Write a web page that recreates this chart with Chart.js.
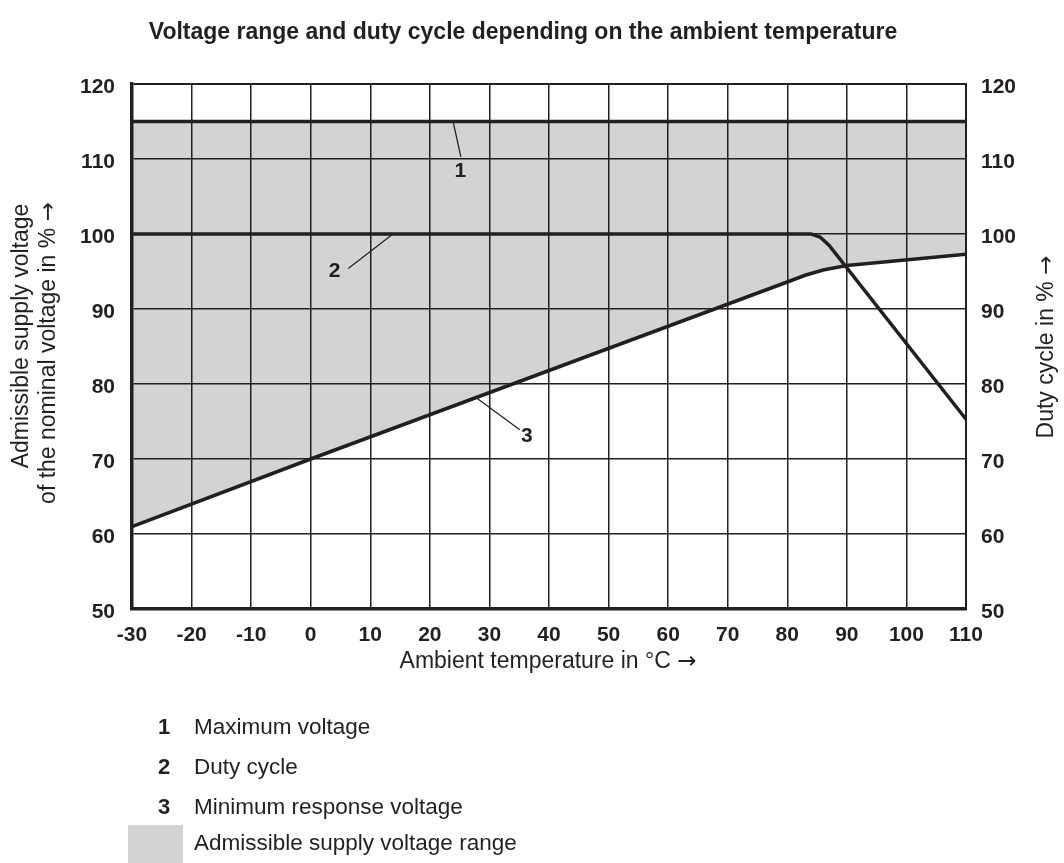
<!DOCTYPE html>
<html lang="en">
<head>
  <meta charset="UTF-8">
  <title>Voltage range and duty cycle</title>
  <script src="https://cdn.jsdelivr.net/npm/chart.js"></script>
  <style>
    body {
      margin: 0;
      background: #fff;
    }
    #chartBox {
      width: 1064px;
      height: 863px;
    }
  </style>
</head>
<body>

  <div id="chartBox">
    <canvas id="voltChart" width="1064" height="863"></canvas>
  </div>

  <script>
    // Curve 1 - maximum voltage (%)
    const maxTemp = [-30, 110];
    const maxVoltage = [115, 115];

    // Curve 2 - duty cycle (%), right axis
    const dutyTemp = [-30, 84, 85.5, 87, 110];
    const dutyCycle = [100, 100, 99.6, 98.5, 75.3];

    // Curve 3 - minimum response voltage (%)
    const minTemp = [-30, 0, 80, 83, 86, 90, 110];
    const minVoltage = [61, 70, 93.6, 94.5, 95.2, 95.8, 97.3];

    // axis ticks
    const tempTicks = [-30, -20, -10, 0, 10, 20, 30, 40, 50, 60, 70, 80, 90, 100, 110];
    const pctTicks = [50, 60, 70, 80, 90, 100, 110, 120];

    // callout labels: [label, fromX, fromY, toX, toY, textX, textY] in data units
    const callouts = [
      ['1', 23.9, 115, 25.2, 110.3, 25.1, 108.4],
      ['2', 13.8, 100, 6.3, 95.4, 4.0, 95.1],
      ['3', 27.9, 78.1, 35.1, 73.9, 36.3, 73.0]
    ];

    const legendItems = [
      ['1', 'Maximum voltage'],
      ['2', 'Duty cycle'],
      ['3', 'Minimum response voltage']
    ];

    const ink = '#231f20';
    const grey = '#d1d3d4';
    const textFamily = "'Liberation Sans', Arial, sans-serif";
    const tickFont = { family: textFamily, size: 21, weight: 'bold' };

    const toPoints = (xs, ys) => xs.map((x, i) => ({ x: x, y: ys[i] }));

    // text followed by a long arrow, centred on (x, y)
    function labelWithArrow(c, text, x, y) {
      c.font = '23px ' + textFamily;
      const w1 = c.measureText(text + ' ').width;
      c.font = '23px "DejaVu Sans"';
      const w2 = c.measureText('\u2192').width;
      const start = x - (w1 + w2) / 2;
      c.textAlign = 'left';
      c.font = '23px ' + textFamily;
      c.fillText(text + ' ', start, y);
      c.font = '23px "DejaVu Sans"';
      c.fillText('\u2192', start + w1, y);
      c.textAlign = 'center';
    }

    // titles, callouts and the key drawn around the plot
    const decorations = {
      id: 'decorations',
      afterDraw(chart) {
        const c = chart.ctx;
        const xs = chart.scales.x;
        const ys = chart.scales.y;
        c.save();
        c.fillStyle = ink;
        c.strokeStyle = ink;

        // chart title
        c.font = 'bold 23px ' + textFamily;
        c.textAlign = 'center';
        c.textBaseline = 'middle';
        c.fillText('Voltage range and duty cycle depending on the ambient temperature', 523, 33);

        // axis titles
        labelWithArrow(c, 'Ambient temperature in \u00b0C', 548, 662);

        c.save();
        c.translate(22, 336);
        c.rotate(-Math.PI / 2);
        c.font = '23px ' + textFamily;
        c.fillText('Admissible supply voltage', 0, 0);
        c.restore();

        c.save();
        c.translate(49, 353);
        c.rotate(-Math.PI / 2);
        labelWithArrow(c, 'of the nominal voltage in %', 0, 0);
        c.restore();

        c.save();
        c.translate(1047, 347);
        c.rotate(-Math.PI / 2);
        labelWithArrow(c, 'Duty cycle in %', 0, 0);
        c.restore();

        // callouts
        c.lineWidth = 1.2;
        c.font = 'bold 21px ' + textFamily;
        callouts.forEach(function (co) {
          c.beginPath();
          c.moveTo(xs.getPixelForValue(co[1]), ys.getPixelForValue(co[2]));
          c.lineTo(xs.getPixelForValue(co[3]), ys.getPixelForValue(co[4]));
          c.stroke();
          c.fillText(co[0], xs.getPixelForValue(co[5]), ys.getPixelForValue(co[6]));
        });

        // key
        c.textAlign = 'left';
        legendItems.forEach(function (item, i) {
          const y = 728 + i * 40;
          c.font = 'bold 22px ' + textFamily;
          c.fillText(item[0], 158, y);
          c.font = '22.5px ' + textFamily;
          c.fillText(item[1], 194, y);
        });
        c.fillStyle = grey;
        c.fillRect(128, 825, 55, 38);
        c.fillStyle = ink;
        c.fillText('Admissible supply voltage range', 194, 844);

        c.restore();
      }
    };

    const ctx = document.getElementById('voltChart').getContext('2d');
    new Chart(ctx, {
      type: 'line',
      data: {
        datasets: [
          {
            label: 'Maximum voltage',
            data: toPoints(maxTemp, maxVoltage),
            borderColor: ink,
            borderWidth: 3.5,
            backgroundColor: grey,
            fill: 2,
            pointRadius: 0,
            yAxisID: 'y'
          },
          {
            label: 'Duty cycle',
            data: toPoints(dutyTemp, dutyCycle),
            borderColor: ink,
            borderWidth: 3.5,
            fill: false,
            pointRadius: 0,
            yAxisID: 'y2'
          },
          {
            label: 'Minimum response voltage',
            data: toPoints(minTemp, minVoltage),
            borderColor: ink,
            borderWidth: 3.5,
            fill: false,
            pointRadius: 0,
            yAxisID: 'y'
          }
        ]
      },
      options: {
        responsive: false,
        animation: false,
        layout: { padding: { top: 84, left: 0, right: 0, bottom: 0 } },
        plugins: {
          legend: { display: false },
          tooltip: { enabled: false },
          filler: { drawTime: 'beforeDraw' }
        },
        scales: {
          x: {
            type: 'linear',
            min: tempTicks[0],
            max: tempTicks[tempTicks.length - 1],
            afterBuildTicks: function (scale) {
              scale.ticks = tempTicks.map(v => ({ value: v }));
            },
            afterFit: function (scale) { scale.height = 254; },
            grid: { color: ink, lineWidth: 1.5, drawTicks: false },
            border: { display: true, color: ink, width: 3.5 },
            ticks: { color: ink, font: tickFont, padding: 14, autoSkip: false, maxRotation: 0 }
          },
          y: {
            position: 'left',
            min: pctTicks[0],
            max: pctTicks[pctTicks.length - 1],
            afterBuildTicks: function (scale) {
              scale.ticks = pctTicks.map(v => ({ value: v }));
            },
            afterFit: function (scale) { scale.width = 132; },
            grid: {
              color: ink,
              drawTicks: false,
              lineWidth: c => (c.tick && c.tick.value === 120 ? 2 : 1.5)
            },
            border: { display: true, color: ink, width: 3.5 },
            ticks: { color: ink, font: tickFont, padding: 17, labelOffset: 3 }
          },
          y2: {
            position: 'right',
            min: pctTicks[0],
            max: pctTicks[pctTicks.length - 1],
            afterBuildTicks: function (scale) {
              scale.ticks = pctTicks.map(v => ({ value: v }));
            },
            afterFit: function (scale) { scale.width = 98; },
            grid: { display: false, drawTicks: false },
            border: { display: true, color: ink, width: 2 },
            ticks: { color: ink, font: tickFont, padding: 15, labelOffset: 3 }
          }
        }
      },
      plugins: [decorations]
    });
  </script>

</body>
</html>
